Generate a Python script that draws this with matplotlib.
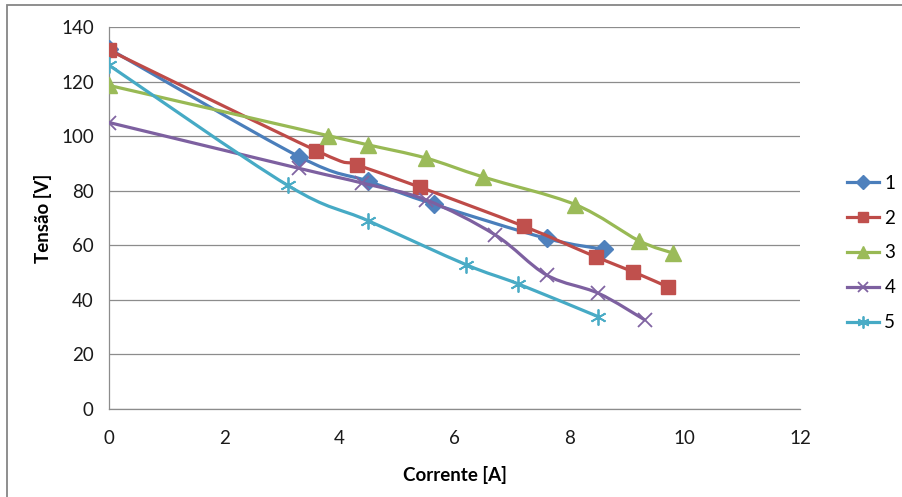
import matplotlib
matplotlib.use('Agg')
import matplotlib.pyplot as plt
from matplotlib.path import Path
from matplotlib.patches import PathPatch, Rectangle
from matplotlib.lines import Line2D

# Current [A] / voltage [V] readings for the five runs
corrente_1 = [0, 3.3, 4.5, 5.65, 7.6, 8.6]
tensao_1 = [132, 92.5, 83.5, 75, 62.5, 58.5]

corrente_2 = [0, 3.6, 4.3, 5.4, 7.2, 8.45, 9.1, 9.7]
tensao_2 = [131.5, 94.7, 89.5, 81.3, 67, 55.8, 50.3, 44.8]

corrente_3 = [0, 3.8, 4.5, 5.5, 6.5, 8.1, 9.2, 9.8]
tensao_3 = [118.6, 100.2, 96.8, 92, 85, 74.9, 61.7, 57.1]

corrente_4 = [0, 3.3, 4.4, 5.5, 6.7, 7.6, 8.5, 9.3]
tensao_4 = [105, 88.2, 82.8, 76.7, 63.9, 49.1, 42.4, 32.7]

corrente_5 = [0, 3.1, 4.5, 6.2, 7.1, 8.5]
tensao_5 = [126, 82, 69, 52.9, 45.9, 33.8]

nomes = ['1', '2', '3', '4', '5']

plt.rcParams['font.family'] = ['Lato', 'DejaVu Sans']


def smooth_path(xs, ys):
    # Catmull-Rom style Bezier through the points (like spreadsheet "smoothed line")
    pts = list(zip(xs, ys))
    verts = [pts[0]]
    codes = [Path.MOVETO]
    n = len(pts)
    for i in range(n - 1):
        p0 = pts[i - 1] if i > 0 else pts[i]
        p1 = pts[i]
        p2 = pts[i + 1]
        p3 = pts[i + 2] if i + 2 < n else pts[i + 1]
        c1 = (p1[0] + (p2[0] - p0[0]) / 6.0, p1[1] + (p2[1] - p0[1]) / 6.0)
        c2 = (p2[0] - (p3[0] - p1[0]) / 6.0, p2[1] - (p3[1] - p1[1]) / 6.0)
        verts += [c1, c2, p2]
        codes += [Path.CURVE4] * 3
    return Path(verts, codes)


fig = plt.figure(figsize=(9.02, 4.97), dpi=100)
ax = fig.add_axes([109 / 902, 1 - 409 / 497, 691 / 902, 382 / 497])

series = [
    (corrente_1, tensao_1, '#4A7EBB', '#4F81BD', 'D', 9.5, 1),
    (corrente_2, tensao_2, '#BE4B48', '#C0504D', 's', 10.5, 1),
    (corrente_3, tensao_3, '#98B954', '#9BBB59', '^', 12, 1),
    (corrente_4, tensao_4, '#7D60A0', '#8064A2', 'x', 10, 1.3),
    (corrente_5, tensao_5, '#46AAC5', '#4BACC6', (6, 2, 0), 11.5, 1.3),
]

handles = []
for i, (xs, ys, lc, mc, mk, ms, mew) in enumerate(series):
    ax.add_patch(PathPatch(smooth_path(xs, ys), fill=False, edgecolor=lc,
                           lw=2.3, capstyle='round', joinstyle='round', zorder=3 + i))
    ax.plot(xs, ys, linestyle='none', marker=mk, markersize=ms,
            markerfacecolor=mc, markeredgecolor=mc, markeredgewidth=mew, zorder=3 + i)
    handles.append(Line2D([], [], color=lc, lw=2.3, marker=mk, markersize=ms * 0.75,
                          markerfacecolor=mc, markeredgecolor=mc, markeredgewidth=mew))

ax.set_xlim(0, 12)
ax.set_ylim(0, 140)
ax.set_xticks(range(0, 13, 2))
ax.set_yticks(range(0, 141, 20))
ax.yaxis.grid(True, color='#8C8C8C', lw=0.9)
ax.set_axisbelow(True)
for side in ['top', 'right']:
    ax.spines[side].set_visible(False)
for side in ['left', 'bottom']:
    ax.spines[side].set_color('#8C8C8C')
    ax.spines[side].set_linewidth(0.9)
ax.tick_params(axis='both', length=0, labelsize=13.5, labelcolor='#1A1A1A')
ax.tick_params(axis='x', pad=15)
ax.tick_params(axis='y', pad=11)

ax.set_xlabel('Corrente [A]', fontsize=13.5, fontweight='bold')
ax.set_ylabel('Tensão [V]', fontsize=13.5, fontweight='bold')
ax.xaxis.set_label_coords(0.5, -0.149)
ax.yaxis.set_label_coords(-0.082, 0.5)

fig.legend(handles, nomes, loc='center left', bbox_to_anchor=(830 / 902, 1 - 253 / 497),
           frameon=False, fontsize=13.5, handlelength=1.7, handletextpad=0.3,
           labelspacing=0.95)

# outer chart border
fig.patches.append(Rectangle((7 / 902, -0.2), 1.2, 0.2 + 1 - 5 / 497,
                             transform=fig.transFigure, fill=False,
                             edgecolor='#868686', lw=1.3))

fig.savefig('out.png', dpi=100)
